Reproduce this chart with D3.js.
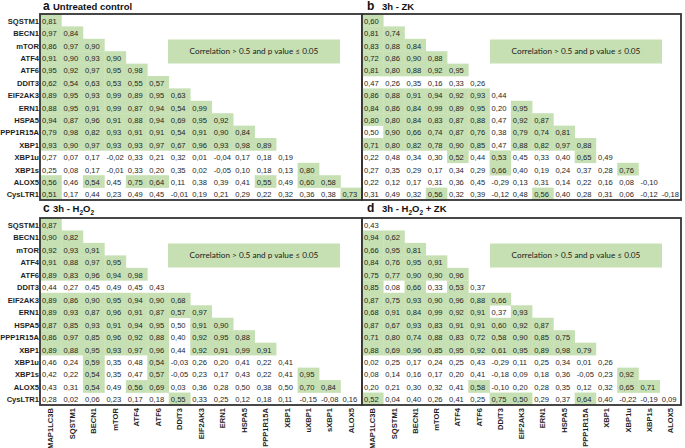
<!DOCTYPE html>
<html><head><meta charset="utf-8">
<script src="https://cdn.jsdelivr.net/npm/d3@7"></script>
<style>body{margin:0;background:#fff}svg{display:block}</style>
</head><body><svg id="c" width="685" height="448"></svg>
<script>
const rowGenes = ["SQSTM1","BECN1","mTOR","ATF4","ATF6","DDIT3","EIF2AK3","ERN1","HSPA5","PPP1R15A","XBP1","XBP1u","XBP1s","ALOX5","CysLTR1"];
const colGenesLeft = ["MAP1LC3B","SQSTM1","BECN1","mTOR","ATF4","ATF6","DDIT3","EIF2AK3","ERN1","HSPA5","PPP1R15A","XBP1","uXBP1","sXBP1","ALOX5"];
const colGenesRight = ["MAP1LC3B","SQSTM1","BECN1","mTOR","ATF4","ATF6","DDIT3","EIF2AK3","ERN1","HSPA5","PPP1R15A","XBP1","XBP1u","XBP1s","ALOX5"];
const legendText = "Correlation > 0.5 and p value \u2264 0.05";

// a: Untreated control
const valuesA = [
 [0.81],
 [0.97,0.84],
 [0.86,0.97,0.90],
 [0.91,0.90,0.93,0.90],
 [0.95,0.92,0.97,0.95,0.98],
 [0.62,0.54,0.63,0.53,0.55,0.57],
 [0.89,0.95,0.93,0.99,0.89,0.95,0.63],
 [0.88,0.95,0.91,0.99,0.87,0.94,0.54,0.99],
 [0.94,0.87,0.96,0.91,0.88,0.94,0.69,0.95,0.92],
 [0.79,0.98,0.82,0.93,0.91,0.91,0.54,0.91,0.90,0.84],
 [0.93,0.90,0.97,0.93,0.93,0.97,0.67,0.96,0.93,0.98,0.89],
 [0.27,0.07,0.17,-0.02,0.33,0.21,0.32,0.01,-0.04,0.17,0.18,0.19],
 [0.25,0.08,0.17,-0.01,0.33,0.20,0.35,0.02,-0.05,0.10,0.18,0.13,0.80],
 [0.56,0.46,0.54,0.45,0.75,0.64,0.11,0.38,0.39,0.41,0.55,0.49,0.60,0.58],
 [0.51,0.17,0.44,0.23,0.49,0.45,-0.01,0.19,0.21,0.29,0.22,0.32,0.36,0.38,0.73]
];
const sigA = [
 [1],[1,1],[1,1,1],[1,1,1,1],[1,1,1,1,1],[1,1,1,1,1,1],
 [1,1,1,1,1,1,1],[1,1,1,1,1,1,1,1],[1,1,1,1,1,1,1,1,1],
 [1,1,1,1,1,1,1,1,1,1],[1,1,1,1,1,1,1,1,1,1,1],
 [0,0,0,0,0,0,0,0,0,0,0,0],
 [0,0,0,0,0,0,0,0,0,0,0,0,1],
 [1,0,1,0,1,1,0,0,0,0,1,0,1,1],
 [1,0,0,0,0,0,0,0,0,0,0,0,0,0,1]
];

// b: 3h - ZK
const valuesB = [
 [0.60],
 [0.81,0.74],
 [0.83,0.88,0.84],
 [0.72,0.86,0.90,0.88],
 [0.81,0.80,0.88,0.92,0.95],
 [0.47,0.26,0.35,0.16,0.33,0.26],
 [0.86,0.88,0.91,0.94,0.92,0.93,0.44],
 [0.84,0.86,0.84,0.99,0.89,0.95,0.20,0.95],
 [0.80,0.80,0.84,0.83,0.87,0.88,0.47,0.92,0.87],
 [0.50,0.90,0.66,0.74,0.87,0.76,0.38,0.79,0.74,0.81],
 [0.71,0.80,0.82,0.78,0.90,0.85,0.47,0.88,0.82,0.97,0.88],
 [0.22,0.48,0.34,0.30,0.52,0.44,0.53,0.45,0.33,0.40,0.65,0.49],
 [0.27,0.35,0.29,0.17,0.34,0.29,0.66,0.40,0.19,0.24,0.37,0.28,0.76],
 [0.22,0.12,0.17,0.31,0.36,0.45,-0.29,0.13,0.31,0.14,0.22,0.16,0.08,-0.10],
 [0.31,0.49,0.32,0.56,0.32,0.39,-0.12,0.48,0.56,0.40,0.28,0.31,0.06,-0.12,-0.18]
];
const sigB = [
 [1],[1,1],[1,1,1],[1,1,1,1],[1,1,1,1,1],[0,0,0,0,0,0],
 [1,1,1,1,1,1,0],[1,1,1,1,1,1,0,1],[1,1,1,1,1,1,0,1,1],
 [0,1,1,1,1,1,0,1,1,1],[1,1,1,1,1,1,0,1,1,1,1],
 [0,0,0,0,1,0,1,0,0,0,1,0],
 [0,0,0,0,0,0,1,0,0,0,0,0,1],
 [0,0,0,0,0,0,0,0,0,0,0,0,0,0],
 [0,0,0,1,0,0,0,0,1,0,0,0,0,0,0]
];

// c: 3h - H2O2
const valuesC = [
 [0.87],
 [0.90,0.82],
 [0.92,0.93,0.91],
 [0.91,0.88,0.97,0.95],
 [0.89,0.83,0.96,0.94,0.98],
 [0.44,0.27,0.45,0.49,0.45,0.43],
 [0.89,0.86,0.90,0.95,0.94,0.90,0.68],
 [0.89,0.93,0.87,0.96,0.91,0.87,0.57,0.97],
 [0.87,0.85,0.93,0.91,0.94,0.95,0.50,0.91,0.90],
 [0.86,0.97,0.85,0.96,0.92,0.88,0.40,0.92,0.95,0.88],
 [0.89,0.88,0.95,0.93,0.97,0.96,0.44,0.92,0.91,0.99,0.91],
 [0.46,0.24,0.59,0.35,0.48,0.54,-0.03,0.26,0.20,0.41,0.22,0.41],
 [0.42,0.22,0.54,0.35,0.47,0.57,-0.05,0.23,0.17,0.43,0.22,0.41,0.95],
 [0.43,0.31,0.54,0.49,0.56,0.69,0.03,0.36,0.28,0.50,0.38,0.50,0.70,0.84],
 [0.28,0.02,0.06,0.23,0.17,0.18,0.55,0.33,0.25,0.12,0.18,0.11,-0.15,-0.08,0.16]
];
const sigC = [
 [1],[1,1],[1,1,1],[1,1,1,1],[1,1,1,1,1],[0,0,0,0,0,0],
 [1,1,1,1,1,1,1],[1,1,1,1,1,1,1,1],[1,1,1,1,1,1,0,1,1],
 [1,1,1,1,1,1,0,1,1,1],[1,1,1,1,1,1,0,1,1,1,1],
 [0,0,1,0,0,1,0,0,0,0,0,0],
 [0,0,1,0,0,1,0,0,0,0,0,0,1],
 [0,0,1,0,1,1,0,0,0,0,0,0,1,1],
 [0,0,0,0,0,0,1,0,0,0,0,0,0,0,0]
];

// d: 3h - H2O2 + ZK
const valuesD = [
 [0.43],
 [0.94,0.62],
 [0.66,0.95,0.81],
 [0.84,0.76,0.95,0.91],
 [0.75,0.77,0.90,0.90,0.96],
 [0.85,0.08,0.66,0.33,0.53,0.37],
 [0.87,0.75,0.93,0.90,0.96,0.88,0.66],
 [0.68,0.91,0.84,0.99,0.92,0.91,0.37,0.93],
 [0.87,0.67,0.93,0.83,0.91,0.91,0.60,0.92,0.87],
 [0.71,0.80,0.74,0.88,0.83,0.72,0.58,0.90,0.85,0.75],
 [0.88,0.69,0.96,0.85,0.95,0.92,0.61,0.95,0.89,0.98,0.79],
 [0.02,0.25,0.17,0.24,0.25,0.43,-0.29,0.11,0.25,0.34,0.01,0.26],
 [0.08,0.14,0.16,0.17,0.20,0.41,-0.18,0.09,0.18,0.36,-0.05,0.23,0.92],
 [0.20,0.21,0.30,0.32,0.41,0.58,-0.10,0.20,0.28,0.35,0.12,0.32,0.65,0.71],
 [0.52,0.04,0.40,0.26,0.41,0.25,0.75,0.50,0.29,0.37,0.64,0.40,-0.22,-0.19,0.09]
];
const sigD = [
 [0],[1,1],[1,1,1],[1,1,1,1],[1,1,1,1,1],[1,0,1,0,1,0],
 [1,1,1,1,1,1,1],[1,1,1,1,1,1,0,1],[1,1,1,1,1,1,1,1,1],
 [1,1,1,1,1,1,1,1,1,1],[1,1,1,1,1,1,1,1,1,1,1],
 [0,0,0,0,0,0,0,0,0,0,0,0],
 [0,0,0,0,0,0,0,0,0,0,0,0,1],
 [0,0,0,0,0,1,0,0,0,0,0,0,1,1],
 [1,0,0,0,0,0,1,1,0,0,1,0,0,0,0]
];

const GREEN = "#c6e0b4";
const FONT = "'Liberation Sans', Arial, sans-serif";
const fmt = d3.formatLocale({decimal:",", thousands:".", grouping:[3], currency:["",""], minus:"-"}).format(".2f");

const svg = d3.select("#c");

const panels = [
 {letter:"a", title:[["Untreated control",""]], values:valuesA, sig:sigA, x0:40, x1:362, y0:14, y1:200, rowLabels:true, cols:null, lx:43, tx:53, ty:10},
 {letter:"b", title:[["3h - ZK",""]], values:valuesB, sig:sigB, x0:362, x1:681, y0:14, y1:200, rowLabels:false, cols:null, lx:367, tx:382, ty:10},
 {letter:"c", title:[["3h - H",""],["2","sub"],["O",""],["2","sub"]], values:valuesC, sig:sigC, x0:40, x1:362, y0:218, y1:405, rowLabels:true, cols:colGenesLeft, lx:43, tx:53, ty:212},
 {letter:"d", title:[["3h - H",""],["2","sub"],["O",""],["2","sub"],[" + ZK",""]], values:valuesD, sig:sigD, x0:362, x1:681, y0:218, y1:405, rowLabels:false, cols:colGenesRight, lx:367, tx:382, ty:212}
];

panels.forEach(p => {
  const x = d3.scaleBand().domain(d3.range(15)).range([p.x0, p.x1]);
  const y = d3.scaleBand().domain(rowGenes).range([p.y0, p.y1]);
  const g = svg.append("g");
  const cells = [];
  p.values.forEach((row, i) => row.forEach((v, j) => cells.push({gene: rowGenes[i], j, v, s: p.sig[i][j]})));

  g.selectAll("rect.cell").data(cells.filter(d => d.s)).join("rect")
    .attr("class","cell")
    .attr("x", d => x(d.j)).attr("y", d => y(d.gene))
    .attr("width", x.bandwidth() + 0.3).attr("height", y.bandwidth() + 0.3)
    .attr("fill", GREEN);

  g.selectAll("text.val").data(cells).join("text")
    .attr("class","val")
    .attr("x", d => x(d.j) + 2).attr("y", d => y(d.gene) + y.bandwidth() - 2.6)
    .attr("font-family", FONT).attr("font-size", 7.6).attr("fill", "#1e1e1e")
    .text(d => fmt(d.v));

  if (p.rowLabels) {
    g.selectAll("text.rl").data(rowGenes).join("text")
      .attr("class","rl")
      .attr("x", p.x0 - 1).attr("y", d => y(d) + y.bandwidth() - 2.6)
      .attr("text-anchor","end")
      .attr("font-family", FONT).attr("font-size", 7.6).attr("font-weight","bold").attr("fill","#1e1e1e")
      .text(d => d);
  }
  if (p.cols) {
    g.selectAll("text.cl").data(p.cols).join("text")
      .attr("class","cl")
      .attr("transform", (d, j) => `translate(${x(j) + x.bandwidth()/2},${p.y1 + 3}) rotate(-90)`)
      .attr("text-anchor","end").attr("dy","0.35em")
      .attr("font-family", FONT).attr("font-size", 7.6).attr("font-weight","bold").attr("fill","#1e1e1e")
      .text(d => d);
  }

  // legend box
  g.append("rect")
    .attr("x", p.x0 + 128).attr("y", p.y0 + 25.5).attr("width", 172).attr("height", 24)
    .attr("fill", GREEN);
  g.append("text")
    .attr("x", p.x0 + 128 + 86).attr("y", p.y0 + 25.5 + 12).attr("dy","0.35em")
    .attr("text-anchor","middle")
    .attr("font-family","Lato, 'Liberation Sans', sans-serif").attr("font-size", 8.2).attr("fill","#1a1a1a")
    .text(legendText);

  // frame
  g.append("rect")
    .attr("x", p.x0).attr("y", p.y0).attr("width", p.x1 - p.x0).attr("height", p.y1 - p.y0)
    .attr("fill","none").attr("stroke","#333").attr("stroke-width", 1.8);

  // titles
  g.append("text").attr("x", p.lx).attr("y", p.ty)
    .attr("font-family", FONT).attr("font-size", 12).attr("font-weight","bold").attr("fill","#111")
    .text(p.letter);
  const t = g.append("text").attr("x", p.tx).attr("y", p.ty)
    .attr("font-family", FONT).attr("font-size", 9.5).attr("font-weight","bold").attr("fill","#111");
  p.title.forEach(([s, kind]) => {
    const ts = t.append("tspan").text(s);
    if (kind === "sub") ts.attr("font-size", 6.5).attr("dy", 2.5);
    else if (t.selectAll("tspan").size() > 1) ts.attr("dy", -2.5);
  });
});
</script></body></html>
